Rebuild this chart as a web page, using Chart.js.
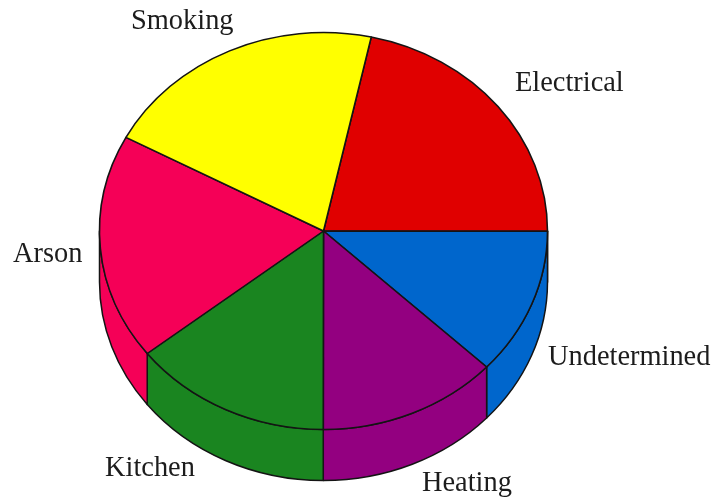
<!DOCTYPE html>
<html lang="en">
<head>
  <meta charset="UTF-8">
  <title>Causes of fires</title>
  <script src="https://cdn.jsdelivr.net/npm/chart.js"></script>
  <style>
    html, body { margin: 0; padding: 0; background: #fff; }
    #wrap { width: 728px; height: 497px; }
  </style>
</head>
<body>
  <div id="wrap"><canvas id="pieChart" width="728" height="497"></canvas></div>

  <script>
    const categories = ["Electrical", "Undetermined", "Heating", "Kitchen", "Arson", "Smoking"];
    const shares = [21.6, 12.0, 13.0, 14.4, 18.4, 20.6];
    const sliceColors = ["#e00000", "#0066cc", "#930080", "#1a8520", "#f50057", "#ffff00"];

    // hand placed text, same order as categories: [left x, baseline y]
    const labelSpots = [[515, 91], [548, 365], [422, 491], [105, 476], [13, 262], [131, 29]];

    const squash = 198.5 / 224; // pie is tilted, so y is shorter than x
    const depth = 51;           // height of the side wall

    // tilts the pie and draws the side wall under it
    const tiltedPie = {
      id: "tiltedPie",
      beforeDatasetsDraw(chart) {
        const ctx = chart.ctx;
        const arcs = chart.getDatasetMeta(0).data;
        const cx = arcs[0].x, cy = arcs[0].y, rx = arcs[0].outerRadius, ry = rx * squash;

        ctx.save();
        ctx.lineWidth = 1.5;
        ctx.strokeStyle = "#141414";
        ctx.lineJoin = "round";
        arcs.forEach((arc, i) => {
          // only the front half (0 to PI) of each slice shows a wall
          for (let k = -1; k <= 1; k++) {
            const from = Math.max(arc.startAngle, k * 2 * Math.PI);
            const to = Math.min(arc.endAngle, k * 2 * Math.PI + Math.PI);
            if (to <= from) continue;
            ctx.beginPath();
            ctx.ellipse(cx, cy + depth, rx, ry, 0, from, to);
            ctx.ellipse(cx, cy, rx, ry, 0, to, from, true);
            ctx.closePath();
            ctx.fillStyle = sliceColors[i];
            ctx.fill();
            ctx.stroke();
          }
        });
        ctx.restore();

        ctx.save();
        ctx.translate(cx, cy);
        ctx.scale(1, squash);
        ctx.translate(-cx, -cy);
      },
      afterDatasetsDraw(chart) {
        chart.ctx.restore();
      },
      afterDraw(chart) {
        const ctx = chart.ctx;
        ctx.save();
        ctx.font = '28.4px "Liberation Serif"';
        ctx.fillStyle = "#1c1c1c";
        ctx.textBaseline = "alphabetic";
        chart.data.labels.forEach((name, i) => {
          ctx.fillText(name, labelSpots[i][0], labelSpots[i][1]);
        });
        ctx.restore();
      }
    };

    new Chart(document.getElementById("pieChart"), {
      type: "pie",
      data: {
        labels: categories,
        datasets: [{
          data: shares,
          backgroundColor: sliceColors,
          borderColor: "#141414",
          borderWidth: 1.6,
          borderJoinStyle: "round"
        }]
      },
      options: {
        responsive: false,
        animation: false,
        events: [],
        rotation: 12.3,
        radius: 224,
        layout: { padding: { left: 0, right: 81, top: 0, bottom: 35 } },
        plugins: {
          legend: { display: false },
          tooltip: { enabled: false }
        }
      },
      plugins: [tiltedPie]
    });
  </script>
</body>
</html>
